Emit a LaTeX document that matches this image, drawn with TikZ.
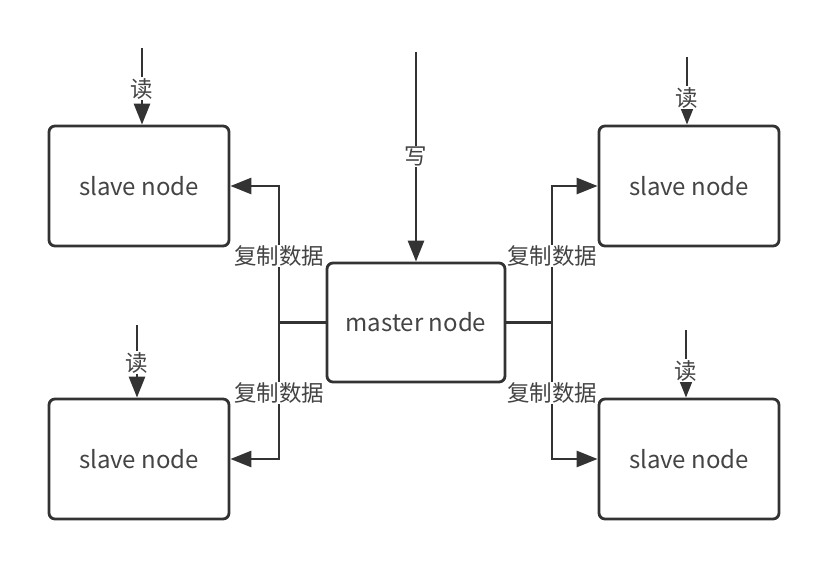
\documentclass[tikz,border=0pt]{standalone}
\usepackage{fontspec}
\setmainfont{Noto Sans CJK SC}
\usetikzlibrary{arrows.meta}
\definecolor{ln}{HTML}{333333}
\definecolor{tx}{HTML}{444444}
\tikzset{
  box/.style={draw=ln, line width=2.8pt, rounded corners=6pt, minimum width=180pt, minimum height=120pt, text=tx, font=\fontsize{24}{28}\selectfont, fill=white},
  arr/.style={draw=ln, line width=2.8pt, -{Triangle[length=21pt,width=16pt]}},
  plain/.style={draw=ln, line width=2.8pt},
  lab/.style={fill=white, text=tx, inner sep=1pt, font=\fontsize{22.5}{26}\selectfont}
}
\begin{document}
\begin{tikzpicture}[x=1pt,y=-1pt]
\useasboundingbox (0,0) rectangle (828,575);
\node[box] (s1) at (139,186) {slave node};
\node[box] (s2) at (139,459) {slave node};
\node[box] (s3) at (689,186) {slave node};
\node[box] (s4) at (689,459) {slave node};
\node[box, minimum width=178pt, minimum height=119pt] (m) at (416,322.5) {master node};
\coordinate (jl) at (279,322.5);
\coordinate (jr) at (552,322.5);
\coordinate (w0) at (416,52);
\coordinate (r1) at (142,48);
\coordinate (r2) at (137,325);
\coordinate (r3) at (687,57);
\coordinate (r4) at (686,330);
% write
\draw[arr] (w0) -- (m.north) node[lab, pos=0.5] {写};
% read
\draw[arr] (r1) -- (r1 |- s1.north) node[lab, pos=0.53] {读};
\draw[arr] (r2) -- (r2 |- s2.north) node[lab, pos=0.52] {读};
\draw[arr] (r3) -- (r3 |- s3.north) node[lab, pos=0.6] {读};
\draw[arr] (r4) -- (r4 |- s4.north) node[lab, pos=0.6] {读};
% replication
\draw[plain] (m.west) -- (jl);
\draw[plain] (m.east) -- (jr);
\draw[arr] (jl) |- (s1.east);
\draw[arr] (jl) |- (s2.east);
\draw[arr] (jr) |- (s3.west);
\draw[arr] (jr) |- (s4.west);
\node[lab] (c1) at (279,256) {复制数据};
\node[lab] (c2) at (279,393) {复制数据};
\node[lab] (c3) at (552,256) {复制数据};
\node[lab] (c4) at (552,393) {复制数据};
\end{tikzpicture}
\end{document}
